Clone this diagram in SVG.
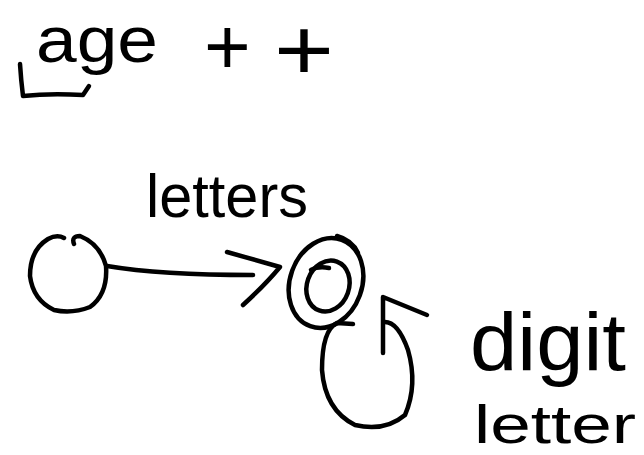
<svg xmlns="http://www.w3.org/2000/svg" width="644" height="455" viewBox="0 0 644 455">
<style>
.s{fill:none;stroke:#000;stroke-width:4.5;stroke-linecap:round;stroke-linejoin:round}
.t{font-family:"Liberation Sans","DejaVu Sans",sans-serif;fill:#000}
</style>
<rect width="644" height="455" fill="#fff"/>
<g id="title">
<path class="s" d="M20,64 Q21,80 23,96 Q50,93 83,95 L89,86"/>
<text class="t" x="36" y="62" font-size="64" textLength="122" lengthAdjust="spacingAndGlyphs">age</text>
<text class="t" x="204" y="74" font-size="80">+</text>
<text class="t" x="274" y="80" font-size="88" textLength="60" lengthAdjust="spacingAndGlyphs">+</text>
</g>
<g id="q0">
<path class="s" d="M74,244 Q71,236 80,236 Q100,244 106,266 Q108,294 90,307 Q72,314 54,310 Q33,300 30,276 Q30,250 48,239 Q57,234 64,238"/>
</g>
<g id="q1">
<ellipse class="s" cx="326" cy="283" rx="36" ry="46" transform="rotate(20 326 283)"/>
<path class="s" d="M337,236 Q352,240 358,253"/>
<ellipse class="s" cx="328" cy="286" rx="21" ry="26" transform="rotate(20 328 286)"/>
<path class="s" d="M311,270 Q318,266 329,268"/>
</g>
<g id="connectors">
<path class="s" d="M107,266 Q160,275 253,275"/>
<path class="s" d="M227,252 L280,267 Q265,285 243,305"/>
<path class="s" d="M353,324 L337,323 Q322,330 322,370 Q325,410 355,425 Q385,432 405,415 Q418,385 408,350 Q398,322 385,322"/>
<path class="s" d="M383,353 L383,297 L427,315"/>
</g>
<g id="labels">
<text class="t" x="146" y="217" font-size="62" textLength="162" lengthAdjust="spacingAndGlyphs">letters</text>
<text class="t" x="470" y="370" font-size="82" textLength="156" lengthAdjust="spacingAndGlyphs">digit</text>
<text class="t" x="474" y="443" font-size="54" textLength="162" lengthAdjust="spacingAndGlyphs">letter</text>
</g>
</svg>
